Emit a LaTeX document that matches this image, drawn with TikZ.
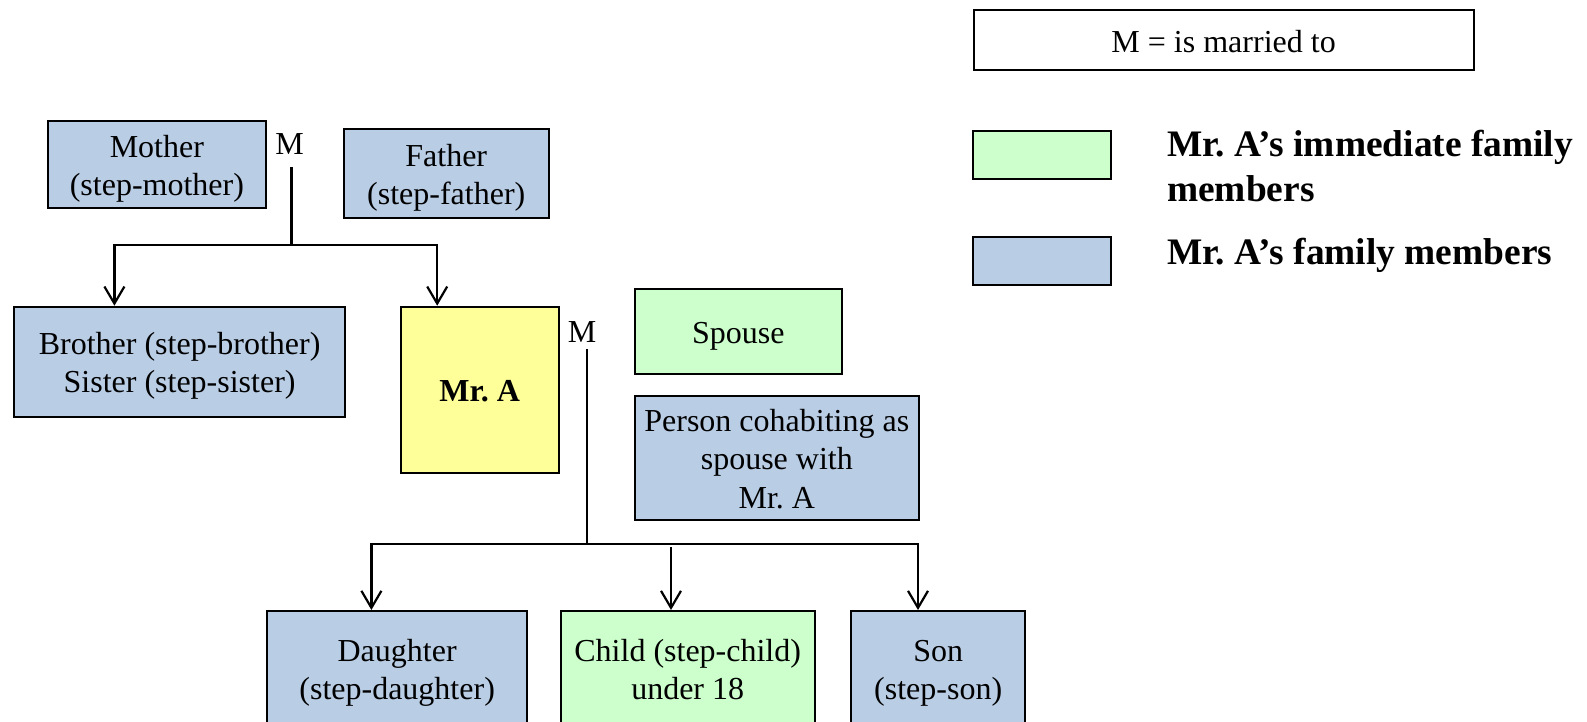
\documentclass[tikz,border=0pt]{standalone}
\usepackage{fontspec}
\setmainfont{Liberation Serif}
\usetikzlibrary{arrows.meta}
\frenchspacing
\definecolor{famblue}{RGB}{185,205,229}
\definecolor{famgreen}{RGB}{204,255,204}
\definecolor{famyellow}{RGB}{255,255,153}
% line strut: every text line is 38.4 units tall, baseline 31 below its top
\newcommand{\ls}{\rule[-7.4pt]{0pt}{38.4pt}}
\newcommand{\lgs}{\rule[-8pt]{0pt}{38pt}}
\begin{document}
\begin{tikzpicture}[x=1pt,y=-1pt,
  box/.style n args={3}{draw=black, line width=2pt, fill=#1, rectangle,
    anchor=north west, inner sep=0pt, align=center,
    minimum width=#2, minimum height=#3,
    font=\fontsize{32}{38.4}\selectfont},
  mlabel/.style={inner xsep=0pt, anchor=base, font=\fontsize{32}{38.4}\selectfont},
  link/.style={line width=2.2pt, line join=miter},
  tip/.style={-{Straight Barb[length=17pt,width=20pt]}},
  tips/.style={{Straight Barb[length=17pt,width=20pt]}-{Straight Barb[length=17pt,width=20pt]}},
  legtext/.style={inner sep=0pt, align=left,
    font=\fontsize{37.4}{44.3}\selectfont\bfseries}]
\useasboundingbox (0,0) rectangle (1587,722);
\clip (0,0) rectangle (1587,722);

% legend
\node[box={white}{500pt}{60pt}] (leg) at (972.6,9.3) {\ls M = is married to};
\node[box={famgreen}{138.7pt}{48pt}] (leggreen) at (971.6,130) {};
\node[box={famblue}{138.7pt}{48pt}] (legblue) at (971.6,236) {};
\node[legtext, anchor=north west] (legimm) at (1167,126.7)
  {\lgs Mr. A’s immediate family\\\lgs members};
\node[legtext, anchor=base west] (legfam) at (1167,264) {Mr. A’s family members};

% parents
\node[box={famblue}{218.6pt}{87.1pt}] (mother) at (46.6,120.4) {\ls Mother\\\ls (step-mother)};
\node[box={famblue}{204.5pt}{88.1pt}] (father) at (343,128.5) {\ls Father\\\ls (step-father)};
\node[mlabel, inner ysep=12pt] (m1) at (289.5,155) {M};

% siblings and Mr. A
\node[box={famblue}{330.9pt}{110.3pt}] (sib) at (13.2,305.7) {\ls Brother (step-brother)\\\ls Sister (step-sister)};
\node[box={famyellow}{157.9pt}{165.9pt}] (mra) at (399.8,305.7) {\ls\textbf{Mr. A}};
\node[mlabel, inner ysep=7pt] (m2) at (582,342) {M};

% partners
\node[box={famgreen}{207.4pt}{84.2pt}] (spouse) at (633.6,288.4) {\ls Spouse};
\node[box={famblue}{284.4pt}{124.4pt}] (cohab) at (633.6,394.8)
  {\ls Person cohabiting as\\\ls spouse with\\\ls Mr. A};

% children
\node[box={famblue}{260.3pt}{114.8pt}] (daughter) at (266,610) {\ls Daughter\\\ls (step-daughter)};
\node[box={famgreen}{254pt}{114.8pt}] (child) at (559.7,610) {\ls Child (step-child)\\\ls under 18};
\node[box={famblue}{174pt}{114.8pt}] (son) at (850.2,610) {\ls Son\\\ls (step-son)};

% junctions of the connectors
\coordinate (j1) at (291.5,245);
\coordinate (bL) at (114.4,245);
\coordinate (bR) at (437.2,245);
\coordinate (j2) at (587,544);
\coordinate (cL) at (371.4,544);
\coordinate (cM) at (671,547);
\coordinate (cR) at (918,544);

% parents to children of the first generation
\draw[link] (m1.south -| j1) -- (j1);
\draw[link, tips] (bL |- sib.north) -- (bL) -- (bR) -- (bR |- mra.north);

% Mr. A to his children
\draw[link] (m2.south -| j2) -- (j2);
\draw[link, tips] (cL |- daughter.north) -- (cL) -- (cR) -- (cR |- son.north);
\draw[link, tip] (cM) -- (cM |- child.north);
\end{tikzpicture}
\end{document}
